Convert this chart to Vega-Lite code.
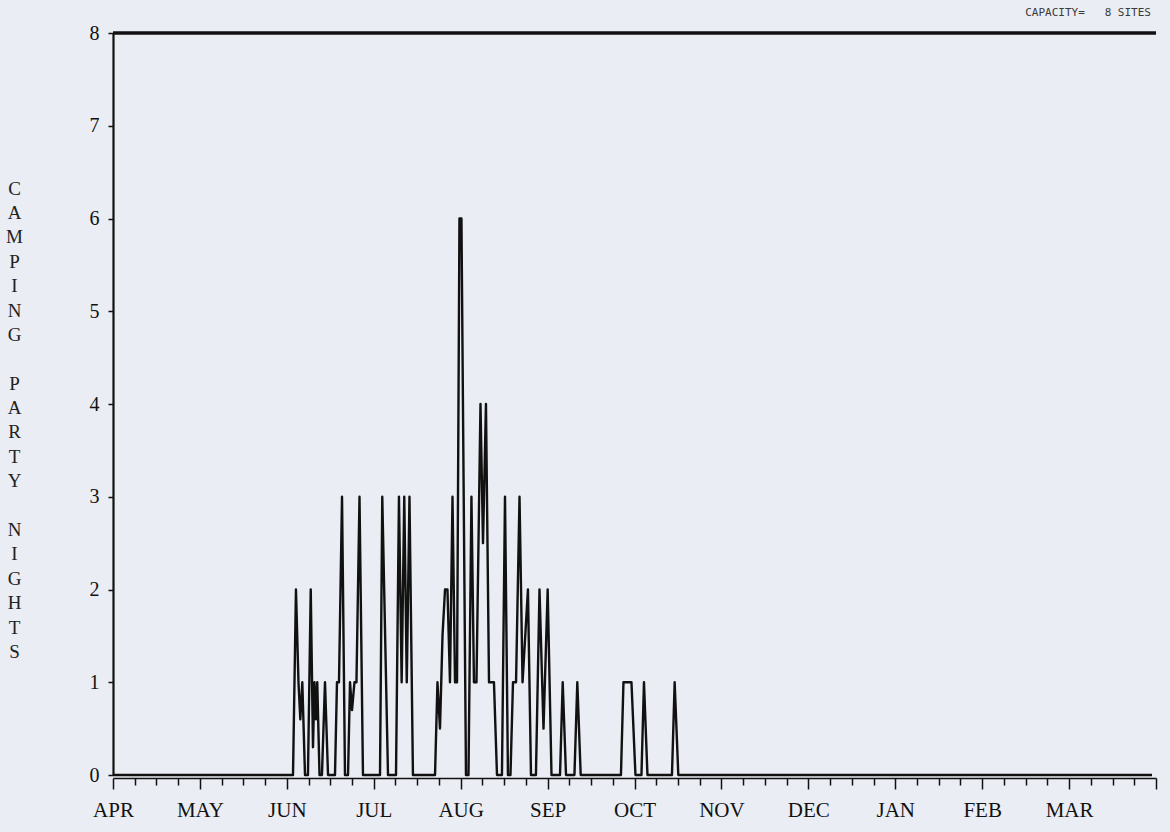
{
  "$schema": "https://vega.github.io/schema/vega-lite/v6.json",
  "width": 1043,
  "height": 742,
  "autosize": "none",
  "padding": {"left": 113, "top": 33, "right": 14, "bottom": 57},
  "background": "#eaedf3",
  "title": {
    "text": "CAPACITY=\u00a0\u00a0\u00a08\u00a0SITES",
    "anchor": "end",
    "frame": "group",
    "font": "DejaVu Sans Mono",
    "fontSize": 11,
    "fontWeight": "normal",
    "color": "#3a3a3a",
    "offset": 5,
    "dx": -5
  },
  "config": {
    "view": {"stroke": null},
    "axis": {"grid": false}
  },
  "datasets": {
    "nights": [
      {"t": 0, "v": 0},
      {"t": 2.071, "v": 0},
      {"t": 2.105, "v": 2},
      {"t": 2.134, "v": 1},
      {"t": 2.155, "v": 0.6},
      {"t": 2.178, "v": 1},
      {"t": 2.209, "v": 0},
      {"t": 2.243, "v": 0},
      {"t": 2.275, "v": 2},
      {"t": 2.301, "v": 0.3},
      {"t": 2.318, "v": 1},
      {"t": 2.335, "v": 0.6},
      {"t": 2.35, "v": 1},
      {"t": 2.376, "v": 0},
      {"t": 2.404, "v": 0},
      {"t": 2.439, "v": 1},
      {"t": 2.474, "v": 0},
      {"t": 2.554, "v": 0},
      {"t": 2.577, "v": 1},
      {"t": 2.6, "v": 1},
      {"t": 2.635, "v": 3},
      {"t": 2.669, "v": 0},
      {"t": 2.704, "v": 0},
      {"t": 2.727, "v": 1},
      {"t": 2.75, "v": 0.7},
      {"t": 2.778, "v": 1},
      {"t": 2.801, "v": 1},
      {"t": 2.836, "v": 3},
      {"t": 2.876, "v": 0},
      {"t": 3.072, "v": 0},
      {"t": 3.098, "v": 3},
      {"t": 3.164, "v": 0},
      {"t": 3.256, "v": 0},
      {"t": 3.29, "v": 3},
      {"t": 3.321, "v": 1},
      {"t": 3.351, "v": 3},
      {"t": 3.38, "v": 1},
      {"t": 3.411, "v": 3},
      {"t": 3.451, "v": 0},
      {"t": 3.705, "v": 0},
      {"t": 3.733, "v": 1},
      {"t": 3.762, "v": 0.5},
      {"t": 3.791, "v": 1.5},
      {"t": 3.82, "v": 2},
      {"t": 3.848, "v": 2},
      {"t": 3.877, "v": 1},
      {"t": 3.906, "v": 3},
      {"t": 3.935, "v": 1},
      {"t": 3.958, "v": 1},
      {"t": 3.986, "v": 6},
      {"t": 4.009, "v": 6},
      {"t": 4.061, "v": 0},
      {"t": 4.09, "v": 0},
      {"t": 4.124, "v": 3},
      {"t": 4.153, "v": 1},
      {"t": 4.182, "v": 1},
      {"t": 4.228, "v": 4},
      {"t": 4.257, "v": 2.5},
      {"t": 4.291, "v": 4},
      {"t": 4.326, "v": 1},
      {"t": 4.383, "v": 1},
      {"t": 4.418, "v": 0},
      {"t": 4.475, "v": 0},
      {"t": 4.51, "v": 3},
      {"t": 4.544, "v": 0},
      {"t": 4.573, "v": 0},
      {"t": 4.602, "v": 1},
      {"t": 4.637, "v": 1},
      {"t": 4.677, "v": 3},
      {"t": 4.712, "v": 1},
      {"t": 4.774, "v": 2},
      {"t": 4.809, "v": 0},
      {"t": 4.866, "v": 0},
      {"t": 4.907, "v": 2},
      {"t": 4.953, "v": 0.5},
      {"t": 5.001, "v": 2},
      {"t": 5.045, "v": 0},
      {"t": 5.143, "v": 0},
      {"t": 5.174, "v": 1},
      {"t": 5.212, "v": 0},
      {"t": 5.309, "v": 0},
      {"t": 5.342, "v": 1},
      {"t": 5.381, "v": 0},
      {"t": 5.844, "v": 0},
      {"t": 5.873, "v": 1},
      {"t": 5.965, "v": 1},
      {"t": 6.011, "v": 0},
      {"t": 6.08, "v": 0},
      {"t": 6.109, "v": 1},
      {"t": 6.149, "v": 0},
      {"t": 6.431, "v": 0},
      {"t": 6.462, "v": 1},
      {"t": 6.504, "v": 0},
      {"t": 11.954, "v": 0}
    ],
    "capacity": [{"cap": 8}]
  },
  "layer": [
    {
      "data": {"name": "nights"},
      "mark": {"type": "line", "color": "#111111", "strokeWidth": 2.4, "strokeJoin": "round"},
      "encoding": {
        "x": {
          "field": "t",
          "type": "quantitative",
          "scale": {"domain": [0, 12], "nice": false, "zero": false},
          "axis": {
            "title": null,
            "values": [0, 0.25, 0.5, 0.75, 1, 1.25, 1.5, 1.75, 2, 2.25, 2.5, 2.75, 3, 3.25, 3.5, 3.75, 4, 4.25, 4.5, 4.75, 5, 5.25, 5.5, 5.75, 6, 6.25, 6.5, 6.75, 7, 7.25, 7.5, 7.75, 8, 8.25, 8.5, 8.75, 9, 9.25, 9.5, 9.75, 10, 10.25, 10.5, 10.75, 11, 11.25, 11.5, 11.75, 12],
            "labelExpr": "datum.value % 1 === 0 && datum.value < 12 ? ['APR','MAY','JUN','JUL','AUG','SEP','OCT','NOV','DEC','JAN','FEB','MAR'][datum.value] : ''",
            "labelFont": "Liberation Serif",
            "labelFontSize": 21,
            "labelColor": "#111111",
            "labelPadding": 10,
            "labelFlush": false,
            "labelOverlap": false,
            "offset": 3,
            "domainColor": "#111111",
            "domainWidth": 1.6,
            "tickColor": "#111111",
            "tickWidth": 1.5,
            "tickSize": {"condition": {"test": "datum.value % 1 === 0", "value": 11}, "value": 7}
          }
        },
        "y": {
          "field": "v",
          "type": "quantitative",
          "scale": {"domain": [0, 8], "nice": false},
          "axis": {
            "values": [0, 1, 2, 3, 4, 5, 6, 7, 8],
            "format": "d",
            "title": ["C", "A", "M", "P", "I", "N", "G", "\u2800", "P", "A", "R", "T", "Y", "\u2800", "N", "I", "G", "H", "T", "S"],
            "titleAngle": 0,
            "titleFont": "Liberation Serif",
            "titleFontSize": 19,
            "titleFontWeight": "normal",
            "titleColor": "#222222",
            "titleLineHeight": 24.4,
            "titleAlign": "center",
            "titleBaseline": "top",
            "titleX": -99,
            "titleY": 146,
            "labelFont": "Liberation Serif",
            "labelFontSize": 20,
            "labelColor": "#111111",
            "labelPadding": 9,
            "domainColor": "#111111",
            "domainWidth": 2.2,
            "tickColor": "#111111",
            "tickWidth": 1.5,
            "tickSize": 5
          }
        }
      }
    },
    {
      "data": {"name": "capacity"},
      "mark": {"type": "rule", "color": "#111111", "strokeWidth": 3.5},
      "encoding": {
        "y": {"field": "cap", "type": "quantitative"}
      }
    }
  ]
}
